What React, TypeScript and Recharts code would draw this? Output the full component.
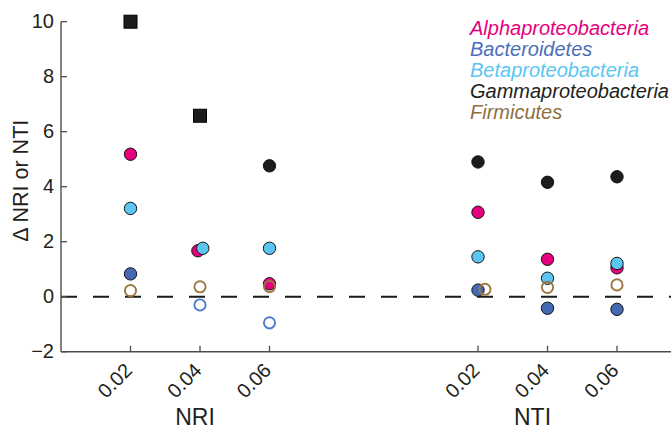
import React from 'react';
import { ScatterChart, Scatter, XAxis, YAxis, ReferenceLine } from 'recharts';

// ---- data ----
const categories = ['0.02', '0.04', '0.06', '0.02', '0.04', '0.06'];
const slots = [1, 2, 3, 6, 7, 8];
const groupLabels = ['NRI', 'NTI'];
const groupCenters = [2, 7];
const yTicks = [-2, 0, 2, 4, 6, 8, 10];

const alphaValues = [5.18, 1.67, 0.47, 3.07, 1.36, 1.05];
const bacteroidetesValues = [0.83, -0.3, -0.95, 0.24, -0.42, -0.46];
const betaValues = [3.21, 1.76, 1.76, 1.45, 0.67, 1.21];
const gammaValues = [10, 6.58, 4.76, 4.9, 4.16, 4.36];
const firmicutesValues = [0.22, 0.36, 0.37, 0.27, 0.34, 0.43];

const alphaFilled = [true, true, true, true, true, true];
const bacteroidetesFilled = [true, false, false, true, true, true];
const betaFilled = [true, true, true, true, true, true];
const gammaFilled = [true, true, true, true, true, true];
const firmicutesFilled = [false, false, false, false, false, false];

const gammaMarkers = ['square', 'square', 'circle', 'circle', 'circle', 'circle'];
const circleMarkers = ['circle', 'circle', 'circle', 'circle', 'circle', 'circle'];

const alphaJitter = [0, -0.03, 0, 0, 0, 0];
const betaJitter = [0, 0.04, 0, 0, 0, 0];
const noJitter = [0, 0, 0, 0, 0, 0];
const firmicutesJitter = [0, 0, 0, 0.1, 0, 0];

const FONT = '"Liberation Sans", Arial, Helvetica, sans-serif';
const AXIS = '#4d4d4d';
const TEXT = '#231f20';

const build = (values: number[], filled: boolean[], markers: string[], jitter: number[]) =>
  values.map((v, i) => ({ x: slots[i] + jitter[i], y: v, filled: filled[i], marker: markers[i] }));

const series = [
  { name: 'Alphaproteobacteria', color: '#e6007e', legend: '#e6007e', data: build(alphaValues, alphaFilled, circleMarkers, alphaJitter) },
  { name: 'Bacteroidetes', color: '#4468b2', legend: '#4a6fb8', data: build(bacteroidetesValues, bacteroidetesFilled, circleMarkers, noJitter), open: '#4f7bcf' },
  { name: 'Betaproteobacteria', color: '#5bc6f1', legend: '#5bc6f1', data: build(betaValues, betaFilled, circleMarkers, betaJitter) },
  { name: 'Gammaproteobacteria', color: '#1c1c1f', legend: '#231f20', data: build(gammaValues, gammaFilled, gammaMarkers, noJitter) },
  { name: 'Firmicutes', color: '#9b7741', legend: '#8f6f3e', data: build(firmicutesValues, firmicutesFilled, circleMarkers, firmicutesJitter) },
];

const makeShape = (color: string, openColor?: string) => (props: any) => {
  const { cx, cy, payload } = props;
  if (payload.marker === 'square') {
    return <rect x={cx - 6.5} y={cy - 6.5} width={13} height={13} fill={color} stroke="#000" strokeWidth={1} />;
  }
  if (payload.filled) {
    return <circle cx={cx} cy={cy} r={6.2} fill={color} stroke="#141414" strokeWidth={1} />;
  }
  return <circle cx={cx} cy={cy} r={5.6} fill="none" stroke={openColor || color} strokeWidth={1.9} />;
};

const XTick = (props: any) => {
  const { x, y, index } = props;
  return (
    <g>
      <line x1={x} y1={y} x2={x} y2={y - 6} stroke={AXIS} strokeWidth={1.3} />
      <text
        x={x + 3}
        y={y + 20}
        textAnchor="end"
        transform={`rotate(-45, ${x + 3}, ${y + 20})`}
        fontSize={20}
        fontFamily={FONT}
        fill={TEXT}
      >
        {categories[index]}
      </text>
    </g>
  );
};

const GroupTick = (props: any) => {
  const { x, y, index } = props;
  const dx = index === 0 ? -5 : -15;
  return (
    <text x={x + dx} y={y + 28.5} textAnchor="middle" fontSize={23} fontFamily={FONT} fill={TEXT}>
      {groupLabels[index]}
    </text>
  );
};

const YTick = (props: any) => {
  const { x, y, payload } = props;
  const label = String(payload.value).replace('-', '\u2212');
  return (
    <g>
      <line x1={x} y1={y} x2={x + 6} y2={y} stroke={AXIS} strokeWidth={1.3} />
      <text x={x - 7} y={y + 6.5} textAnchor="end" fontSize={20} fontFamily={FONT} fill={TEXT}>
        {label}
      </text>
    </g>
  );
};

const YLabel = (props: any) => {
  const vb = props.viewBox || { x: 0, y: 0, width: 61, height: 330 };
  const cx = vb.x + 28;
  const cy = vb.y + vb.height / 2 - 6;
  return (
    <text
      x={cx}
      y={cy}
      textAnchor="middle"
      transform={`rotate(-90, ${cx}, ${cy})`}
      fontSize={21.5}
      fontFamily={FONT}
      fill={TEXT}
    >
      {'\u0394 NRI or NTI'}
    </text>
  );
};

export default function App() {
  return (
    <div style={{ position: 'relative', width: 671, height: 433, overflow: 'hidden', background: '#fff' }}>
      <style>{'body{margin:0;}'}</style>
      <ScatterChart width={700} height={433} margin={{ top: 21.7, right: 13.5, bottom: 0, left: 0 }}>
        <XAxis
          xAxisId={0}
          type="number"
          dataKey="x"
          domain={[0, 9]}
          ticks={slots}
          interval={0}
          height={45}
          tickSize={0}
          tickMargin={0}
          tickLine={false}
          axisLine={{ stroke: AXIS, strokeWidth: 1.4 }}
          tick={<XTick />}
        />
        <XAxis
          xAxisId="g"
          type="number"
          dataKey="x"
          domain={[0, 9]}
          ticks={groupCenters}
          interval={0}
          height={36.3}
          tickSize={0}
          tickMargin={0}
          tickLine={false}
          axisLine={false}
          tick={<GroupTick />}
          allowDataOverflow
        />
        <YAxis
          type="number"
          dataKey="y"
          domain={[-2, 10]}
          ticks={yTicks}
          interval={0}
          width={61}
          tickSize={0}
          tickMargin={0}
          tickLine={false}
          axisLine={{ stroke: AXIS, strokeWidth: 1.4 }}
          tick={<YTick />}
          label={YLabel}
        />
        <ReferenceLine y={0} stroke="#1a1a1a" strokeWidth={2} strokeDasharray="16 16" ifOverflow="visible" />
        {series.map((s) => (
          <Scatter
            key={s.name}
            name={s.name}
            data={s.data}
            shape={makeShape(s.color, (s as any).open)}
            isAnimationActive={false}
          />
        ))}
      </ScatterChart>
      <div
        style={{
          position: 'absolute',
          left: 470,
          top: 17.6,
          fontFamily: FONT,
          fontStyle: 'italic',
          fontSize: 20,
          lineHeight: '21px',
          whiteSpace: 'nowrap',
        }}
      >
        {series.map((s) => (
          <div key={s.name} style={{ color: s.legend }}>
            {s.name}
          </div>
        ))}
      </div>
    </div>
  );
}
